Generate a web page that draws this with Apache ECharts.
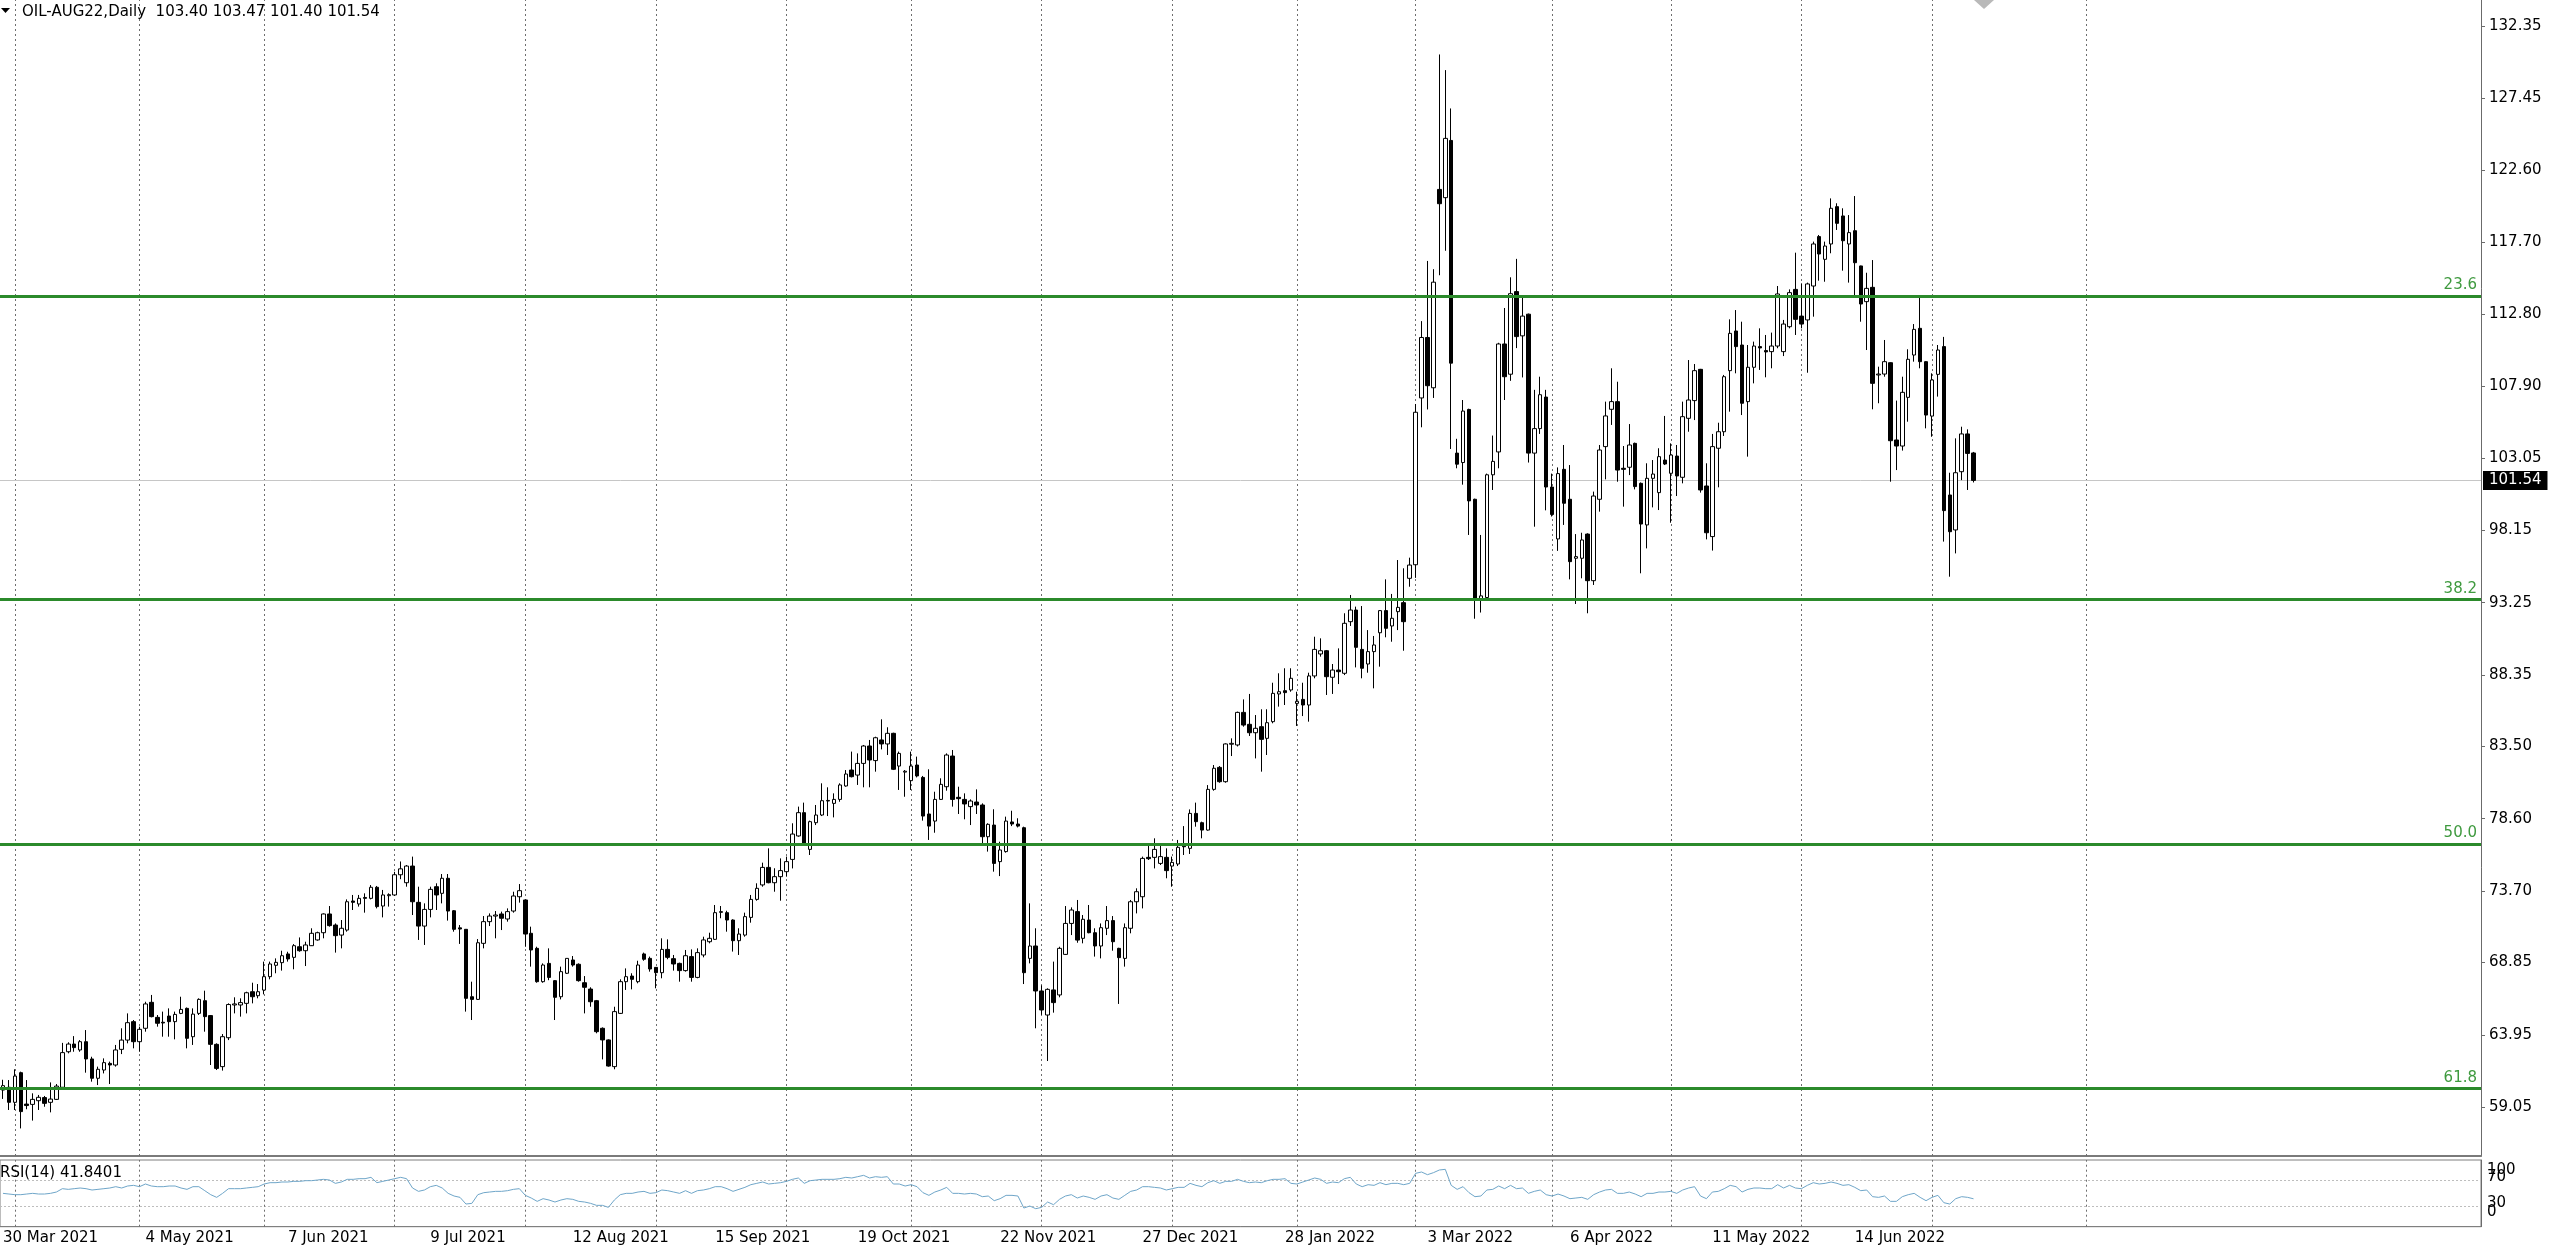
<!DOCTYPE html>
<html><head><meta charset="utf-8">
<script src="https://cdn.jsdelivr.net/npm/echarts@6/dist/echarts.min.js"></script>
<style>html,body{margin:0;padding:0;background:#fff}#c{width:2560px;height:1251px}</style>
</head><body><div id="c"></div>
<script>
// ---- data (slot 0 = 30 Mar 2021, one slot per daily bar) ----
// each row: [open, high, low, close]
const ohlc = [
[60.20,60.90,59.60,60.50],
[60.39,60.88,58.85,59.37],[59.37,61.61,58.85,61.15],[61.38,61.45,57.60,58.74],[59.25,60.88,58.90,59.15],[59.23,59.98,58.13,59.57],
[59.48,59.87,58.85,59.71],[59.69,59.80,59.07,59.30],[59.37,60.72,58.69,59.59],[59.57,60.61,59.53,60.47],[60.39,63.40,60.32,62.74],
[62.80,63.44,62.69,63.32],[63.32,63.86,62.80,63.08],[62.92,63.59,62.80,63.48],[63.48,64.27,61.38,62.31],[62.31,62.46,60.77,61.00],
[61.00,61.79,60.54,61.61],[61.56,62.35,61.33,62.06],[62.01,62.13,60.61,61.90],[61.90,63.26,61.79,62.92],[62.96,64.39,62.64,63.59],
[63.59,65.40,63.37,64.77],[64.84,64.95,63.03,63.48],[63.48,64.50,62.80,64.32],[64.39,66.19,64.16,66.04],[66.15,66.65,65.13,65.18],
[65.13,65.29,64.50,64.73],[64.80,65.52,63.82,64.75],[65.22,65.74,63.82,64.84],[64.84,65.52,63.64,65.33],[65.40,66.53,65.35,65.67],
[65.74,65.80,63.03,63.71],[63.82,65.74,63.26,65.35],[65.40,66.42,65.29,66.35],[66.26,66.94,64.16,65.18],[65.25,65.29,61.90,63.30],
[63.30,63.37,61.56,61.67],[61.79,64.00,61.52,63.82],[63.75,66.08,63.59,66.00],[65.97,66.49,65.40,66.04],[65.97,66.42,65.18,66.13],
[66.08,66.87,65.40,66.80],[66.87,67.48,66.08,66.53],[66.60,67.39,66.42,66.87],[66.98,68.91,66.69,67.89],[67.89,68.91,67.71,68.75],
[68.66,69.13,68.12,68.86],[68.84,69.65,68.30,69.31],[69.43,69.58,68.91,69.09],[69.20,70.10,68.39,69.99],[69.92,70.55,69.58,69.65],
[69.65,70.26,68.61,70.04],[69.99,71.17,69.97,70.83],[70.38,70.94,70.33,70.87],[70.87,72.18,70.49,72.14],[72.14,72.68,71.28,71.35],
[71.39,71.50,69.52,70.67],[70.71,71.73,69.81,71.17],[71.05,73.13,70.94,72.97],[73.02,73.43,72.41,72.93],[72.82,73.43,72.64,73.20],
[73.26,73.54,72.23,73.20],[73.20,74.10,73.13,73.95],[73.95,74.04,72.52,72.64],[72.68,73.77,71.91,73.43],[73.38,73.54,72.64,73.45],
[73.43,75.00,73.36,74.80],[74.80,75.70,74.50,75.20],[74.26,75.46,73.99,75.39],[75.39,76.03,72.07,72.97],[72.93,73.99,70.38,71.32],
[71.32,72.86,70.04,72.45],[72.45,73.99,71.91,73.81],[73.99,74.22,72.41,73.43],[73.54,74.85,72.86,74.56],[74.56,74.85,71.69,72.34],
[72.36,72.41,70.94,71.10],[71.20,71.39,70.11,71.12],[71.10,71.10,65.52,66.42],[66.53,67.55,64.95,66.35],[66.35,70.44,66.31,70.19],
[70.15,72.00,69.81,71.62],[71.62,72.18,71.32,72.00],[72.00,72.34,70.49,72.07],[72.14,72.30,71.05,71.85],[71.80,72.52,71.62,72.30],
[72.34,73.65,72.23,73.36],[73.31,74.17,72.91,73.72],[73.09,73.13,69.92,70.78],[70.83,71.28,68.57,69.70],[69.81,69.92,67.48,67.55],
[67.55,68.79,67.48,68.68],[68.79,69.81,67.65,67.84],[67.62,67.65,64.95,66.49],[66.53,68.57,66.35,68.23],[68.12,69.13,68.07,69.13],
[69.02,69.29,68.57,68.68],[68.73,68.79,67.55,67.62],[67.48,67.93,65.40,67.17],[67.05,67.17,65.85,66.19],[66.26,66.31,64.05,64.16],
[64.39,64.45,62.28,63.60],[63.60,63.64,61.79,61.83],[61.79,65.85,61.61,65.52],[65.40,67.71,65.36,67.55],[67.55,68.45,66.99,67.89],
[67.93,68.12,67.03,67.71],[67.55,68.97,67.44,68.68],[69.43,69.52,68.97,69.07],[69.13,69.25,68.23,68.41],[68.52,68.52,67.10,68.16],
[68.16,70.49,67.78,69.74],[69.74,70.42,69.07,69.20],[69.11,69.36,68.30,68.75],[68.79,68.84,67.55,68.30],[68.30,69.70,68.23,69.31],
[69.25,69.74,67.55,67.84],[67.84,69.81,67.78,69.52],[69.36,70.60,69.20,70.38],[70.26,70.87,70.15,70.49],[70.42,72.75,70.38,72.23],
[72.25,72.68,71.85,72.30],[72.23,72.36,70.94,71.73],[71.73,71.78,69.59,70.33],[70.33,71.17,69.36,70.78],[70.71,72.23,70.60,71.96],
[71.91,73.43,71.55,73.13],[73.13,74.22,73.04,73.88],[74.11,75.62,73.99,75.30],[75.30,76.59,74.22,74.26],[74.26,75.24,73.65,74.67],
[74.67,75.91,73.04,75.08],[75.01,76.03,74.67,75.69],[75.84,78.29,75.23,77.56],[77.43,79.42,77.38,79.01],[79.01,79.69,76.75,76.82],
[76.52,78.47,76.14,78.40],[78.33,79.53,78.17,78.85],[78.85,81.00,78.78,79.82],[79.80,80.73,78.78,79.84],[79.64,80.32,78.69,79.91],
[79.91,81.00,79.75,80.89],[80.82,81.90,80.77,81.63],[81.90,83.15,81.40,81.45],[81.56,83.03,80.89,82.35],[82.35,83.60,80.73,83.53],
[83.53,83.94,80.73,82.58],[82.54,84.16,81.79,84.09],[83.94,85.34,83.30,83.67],[83.67,84.80,82.92,84.39],[84.39,84.43,81.90,81.95],
[82.17,83.15,80.55,83.03],[81.76,81.90,80.09,81.82],[81.18,83.15,80.55,82.17],[82.24,82.81,81.40,81.50],[81.40,81.50,78.47,78.78],
[78.92,81.95,77.16,78.10],[78.44,80.43,77.65,79.91],[79.91,81.34,79.87,80.93],[80.77,83.03,80.50,82.92],[82.85,83.26,79.42,79.91],
[80.05,80.77,78.92,79.96],[79.91,80.32,78.56,79.60],[79.42,79.91,78.17,79.80],[79.73,80.59,78.92,79.53],[79.53,79.64,76.93,77.38],
[77.38,78.29,76.37,78.22],[78.17,79.24,75.01,75.57],[75.69,77.04,74.71,76.48],[76.37,78.74,76.30,78.44],[78.38,79.14,78.10,78.24],
[78.24,78.63,78.01,78.10],[77.99,78.06,67.39,68.16],[69.13,72.86,68.79,69.97],[69.97,71.17,64.39,66.92],[66.92,67.30,65.30,65.63],
[65.29,67.10,62.17,67.03],[66.99,68.91,65.45,66.13],[66.65,69.92,66.49,69.81],[69.40,72.68,69.36,71.50],[71.50,72.59,70.71,72.41],
[72.30,73.09,70.19,70.37],[70.49,72.07,70.15,71.78],[71.73,72.75,70.83,70.87],[70.87,71.17,69.25,69.97],[69.97,71.50,69.13,71.21],
[71.17,72.68,70.71,71.69],[71.69,72.00,69.65,70.26],[69.81,69.85,66.04,69.18],[69.13,71.50,68.57,71.21],[71.17,73.09,70.83,72.97],
[72.97,73.88,72.18,73.65],[73.31,76.03,72.52,75.91],[75.98,76.82,75.80,75.89],[75.98,77.27,75.23,76.52],[75.57,76.93,75.46,76.03],
[75.98,76.59,74.56,75.08],[75.39,76.03,73.99,75.64],[75.53,77.16,75.39,76.66],[76.86,78.10,76.14,76.70],[76.59,79.23,76.21,78.96],
[78.96,79.69,78.06,78.40],[78.33,78.40,77.27,77.83],[77.83,80.88,77.79,80.59],[80.59,82.24,80.50,82.02],[82.08,82.17,81.04,81.11],
[81.11,83.71,81.04,83.67],[83.65,84.05,82.85,83.71],[83.60,85.86,83.50,85.81],[85.81,86.69,84.84,84.95],[85.00,87.06,84.21,84.43],
[84.43,85.63,82.69,84.73],[84.84,86.02,81.79,83.98],[84.05,86.02,82.92,85.11],[85.18,87.82,85.07,87.10],[87.06,88.46,86.20,87.21],
[87.28,88.80,86.31,87.15],[87.33,88.80,87.21,88.12],[86.42,87.21,84.89,86.56],[86.69,87.82,85.56,86.31],[86.31,88.50,85.18,88.28],
[88.28,90.94,88.12,90.08],[89.77,90.83,89.59,89.99],[89.99,90.04,86.99,88.23],[88.19,89.09,87.06,88.68],[88.68,90.15,87.73,88.57],
[88.46,92.53,88.34,91.85],[91.96,93.77,91.67,92.75],[92.75,92.98,88.86,90.22],[90.08,93.02,88.12,88.80],[89.09,91.39,88.50,89.93],
[89.93,90.99,87.44,90.38],[91.21,92.75,88.91,92.71],[92.71,94.83,90.90,91.51],[91.67,93.84,90.60,92.19],[92.64,96.14,91.39,92.93],
[93.25,95.58,89.99,91.96],[94.90,96.30,94.33,95.80],[95.82,106.72,94.93,106.16],[107.13,112.34,105.14,111.23],[111.23,116.42,106.35,107.96],
[107.82,115.86,107.13,114.98],[121.27,130.42,115.45,120.30],[120.71,129.36,117.11,124.73],[124.59,126.76,103.67,109.49],[103.39,104.36,102.36,102.64],
[102.75,106.99,101.25,106.24],[106.35,106.40,97.84,100.15],[100.26,100.30,92.16,93.49],[93.49,97.84,92.58,93.71],[93.60,102.00,93.41,101.92],
[101.92,104.58,100.89,102.83],[103.47,110.87,102.36,110.79],[110.79,113.23,106.99,108.57],[108.74,115.31,108.29,114.20],[114.34,116.56,110.51,111.29],
[111.34,113.92,108.52,112.68],[112.81,112.85,102.75,103.39],[103.39,107.68,98.40,105.05],[105.05,108.57,104.69,107.35],[107.19,107.68,99.51,101.09],
[101.09,102.00,99.09,99.23],[97.57,102.42,96.76,102.00],[102.29,103.94,98.52,99.99],[100.26,102.58,94.83,96.03],[96.26,97.90,93.16,96.37],
[96.26,97.99,94.90,97.50],[97.90,97.95,92.53,94.74],[94.74,100.78,94.45,100.48],[100.26,103.94,99.42,103.60],[103.83,106.88,101.61,105.91],
[106.36,109.14,105.30,106.88],[106.88,108.23,101.45,102.24],[102.36,103.87,99.76,102.29],[102.43,105.36,101.90,103.94],[104.05,104.10,100.93,101.12],
[101.34,101.40,95.24,98.58],[98.52,102.70,96.93,101.68],[101.68,102.92,99.71,101.97],[100.71,103.72,99.53,103.15],[102.92,105.91,102.58,102.65],
[102.02,104.05,98.67,103.26],[103.19,103.94,100.48,101.84],[101.75,106.88,101.34,105.86],[105.75,109.70,104.84,106.99],[106.95,109.43,105.63,108.98],
[109.07,109.10,100.71,100.89],[101.16,102.70,97.54,97.99],[97.73,104.69,96.78,103.83],[103.72,105.45,101.07,104.84],[104.84,108.69,104.55,108.57],
[108.98,112.46,106.20,111.51],[111.67,113.09,108.80,110.61],[110.72,112.30,105.97,106.77],[106.88,110.72,103.15,109.21],[109.21,110.95,108.12,110.65],
[110.61,111.85,109.03,110.52],[110.34,111.40,108.53,110.25],[110.27,111.56,109.14,110.65],[110.65,114.72,110.50,114.18],[110.27,112.42,109.97,112.14],
[111.96,114.49,111.85,114.27],[114.49,116.98,111.40,112.46],[112.68,114.90,111.85,112.14],[112.42,114.95,108.84,114.86],[114.72,117.73,112.64,117.57],
[118.07,118.18,115.08,116.89],[116.53,117.73,115.01,117.43],[117.57,120.66,116.94,119.99],[120.10,120.33,118.52,118.97],[119.47,119.99,115.76,117.79],
[117.57,119.53,114.95,118.34],[118.47,120.82,114.11,116.30],[116.08,116.10,112.30,113.50],[113.66,115.62,110.38,114.56],[114.63,116.48,106.36,108.12],
[108.69,109.25,106.77,108.75],[108.75,111.06,108.57,109.59],[109.52,109.55,101.45,104.23],[104.28,106.95,102.24,103.87],[103.87,108.57,103.56,107.51],
[107.17,110.43,105.52,109.75],[110.04,112.14,109.59,111.78],[111.85,114.04,109.14,109.59],[109.59,109.62,105.07,105.97],[105.90,108.80,104.50,108.35],
[108.73,110.72,107.22,110.38],[110.61,111.27,97.39,99.49],[100.55,102.06,95.01,98.06],[98.18,104.39,96.59,102.06],[102.13,105.18,101.56,104.69],
[104.69,105.00,100.89,103.37],[103.40,103.47,101.40,101.54]
];
const rsiValues = [
50,
49,48,48,49,50,49,49,50,52,57, 56,57,58,57,55,56,57,58,60,58, 61,62,60,64,61,60,60,61,61,58,
56,60,60,54,48,44,50,57,57,57, 58,59,60,64,66,66,67,67,68,68, 69,69,70,71,70,65,67,71,71,72,
72,74,66,68,70,72,74,72,58,53, 55,60,62,58,50,46,44,34,35,48, 51,52,53,53,54,56,57,47,43,38,
42,40,37,40,42,41,38,37,35,32, 32,29,40,48,50,50,52,53,50,51, 55,54,52,50,54,50,54,55,57,60,
60,57,53,56,59,63,65,67,64,65, 66,68,71,73,65,69,70,71,71,71, 72,74,73,75,77,73,75,74,75,64,
64,61,63,60,51,47,52,55,59,50, 50,49,50,49,45,46,39,42,47,47, 46,28,31,27,29,37,33,41,46,48,
43,46,44,41,46,48,43,41,47,53, 55,60,60,59,58,55,57,59,59,65, 62,60,66,69,65,68,68,71,68,66,
67,66,69,71,71,72,65,64,67,70, 73,71,65,67,66,72,74,64,60,63, 62,66,63,65,65,63,65,80,82,78,
81,85,86,62,56,60,51,45,46,55, 56,61,57,62,57,58,50,53,55,48, 46,49,46,42,43,44,41,48,52,55,
56,50,50,52,49,45,50,50,52,52, 53,50,55,58,60,46,42,52,53,57, 62,60,52,56,58,58,57,57,63,58,
62,58,57,62,66,64,65,67,65,62, 63,59,54,55,45,44,46,38,38,45, 48,50,44,39,44,47,36,34,42,45,
44,41.84
];
const priceTicks = [59.05,63.95,68.85,73.70,78.60,83.50,88.35,93.25,98.15,103.05,107.90,112.80,117.70,122.60,127.45,132.35];
const rsiEdgeTicks = [0,100];
const rsiLevelTicks = [30,70];
const dateLabels = ['30 Mar 2021','4 May 2021','7 Jun 2021','9 Jul 2021','12 Aug 2021','15 Sep 2021','19 Oct 2021','22 Nov 2021','27 Dec 2021','28 Jan 2022','3 Mar 2022','6 Apr 2022','11 May 2022','14 Jun 2022'];
const dateLabelSlots = [0,24,48,72,96,120,144,168,192,216,240,264,288,312];
const monthLineSlots = [2,23,44,66,88,110,132,153,175,197,218,238,261,281,303,325,351];
const fiboNames = ['23.6','38.2','50.0','61.8'];
const fiboLevels = [114.04,93.49,76.89,60.30];
const symbolName = 'OIL-AUG22,Daily';
const lastBar = [103.40,103.47,101.40,101.54];
const rsiLast = '41.8401';

// ---- chart ----
const FONT = 'DejaVu Sans';
const SLOT_COUNT = 418;
const slots = Array.from({length: SLOT_COUNT}, (_, i) => 's' + i);
const labelBySlot = {};
dateLabelSlots.forEach((s, i) => { labelBySlot[s] = dateLabels[i]; });
const candleData = ohlc.map(d => [d[0], d[3], d[2], d[1]]);
const vLineStyle = {color: '#6e6e6e', type: [2, 3], width: 1};
const rsiRich = {
  l100: {fontFamily: FONT, fontSize: 15, color: '#000', padding: [21, 0, 0, 0]},
  l70: {fontFamily: FONT, fontSize: 15, color: '#000', padding: [0, 0, 5, 0]},
  l30: {fontFamily: FONT, fontSize: 15, color: '#000', padding: [0, 0, 8, 0]},
  l0: {fontFamily: FONT, fontSize: 15, color: '#000', padding: [0, 0, 30, 0]}
};
function rsiAxis(ticks, showLine) {
  return {type: 'value', gridIndex: 1, position: 'right', min: 0, max: 100,
    axisLine: {show: showLine, lineStyle: {color: '#6b6b6b', width: 1}},
    axisTick: {show: false},
    axisLabel: {customValues: ticks, margin: 6, showMinLabel: true, showMaxLabel: true,
      formatter: v => '{l' + v + '|' + v + '}',
      fontFamily: FONT, fontSize: 15, color: '#000', rich: rsiRich},
    splitLine: {show: false}};
}

const chart = echarts.init(document.getElementById('c'), null, {renderer: 'canvas', width: 2560, height: 1251});
chart.setOption({
  animation: false,
  backgroundColor: '#ffffff',
  title: [
    {text: symbolName + '  ' + lastBar.map(v => v.toFixed(2)).join(' '), left: 22, top: 3, padding: 0,
     textStyle: {fontFamily: FONT, fontSize: 15, fontWeight: 'normal', color: '#000', lineHeight: 18}},
    {text: 'RSI(14) ' + rsiLast, left: 0, top: 1164, padding: 0,
     textStyle: {fontFamily: FONT, fontSize: 15, fontWeight: 'normal', color: '#000', lineHeight: 18}}
  ],
  graphic: [
    {type: 'polygon', shape: {points: [[1, 8], [10, 8], [5.5, 13]]}, style: {fill: '#000'}},
    {type: 'polygon', shape: {points: [[1974, 0], [1994, 0], [1984, 9]]}, style: {fill: '#b9b9b9'}}
  ],
  grid: [
    {left: -6, right: 79, top: 0, height: 1156},
    {left: -6, right: 79, top: 1160, height: 66.7, show: true, borderColor: '#7f7f7f', borderWidth: 1}
  ],
  xAxis: [
    {type: 'category', gridIndex: 0, data: slots, boundaryGap: true,
     axisLine: {show: true, lineStyle: {color: '#7a7a7a', width: 2}}, axisTick: {show: false},
     axisLabel: {show: false}, splitLine: {show: false}},
    {type: 'category', gridIndex: 1, data: slots, boundaryGap: true,
     axisLine: {show: true, lineStyle: {color: '#7f7f7f', width: 1}}, axisTick: {show: false},
     axisLabel: {show: true, interval: (i) => labelBySlot[i] !== undefined,
       formatter: (v, i) => labelBySlot[i] || '', align: 'left', margin: 4,
       fontFamily: FONT, fontSize: 15, color: '#000'},
     splitLine: {show: false}}
  ],
  yAxis: [
    {type: 'value', gridIndex: 0, position: 'right', min: 55.73, max: 134.113,
     axisLine: {show: true, lineStyle: {color: '#6b6b6b', width: 1}},
     axisTick: {show: true, length: 4, customValues: priceTicks, lineStyle: {color: '#6b6b6b'}},
     axisLabel: {customValues: priceTicks, formatter: v => Number(v).toFixed(2), margin: 8,
       fontFamily: FONT, fontSize: 15, color: '#000'},
     splitLine: {show: false}},
    rsiAxis(rsiEdgeTicks, true),
    rsiAxis(rsiLevelTicks, false)
  ],
  series: [
    {name: 'grid', type: 'line', xAxisIndex: 0, yAxisIndex: 0, data: [], z: 1, silent: true,
     markLine: {silent: true, symbol: 'none', z: 1, animation: false, label: {show: false},
       data: [
         ...monthLineSlots.map(s => ({xAxis: s, lineStyle: vLineStyle})),
         {yAxis: lastBar[3], lineStyle: {color: '#c6c6c6', type: 'solid', width: 1},
          label: {show: true, position: 'end', formatter: lastBar[3].toFixed(2), distance: 2,
            backgroundColor: '#000', color: '#fff', fontFamily: FONT, fontSize: 15,
            lineHeight: 16, padding: [2, 6, 1, 6]}}
       ]}},
    {name: 'OIL', type: 'candlestick', xAxisIndex: 0, yAxisIndex: 0, data: candleData, z: 3,
     barWidth: 4, silent: true,
     itemStyle: {color: '#ffffff', color0: '#000000', borderColor: '#000000', borderColor0: '#000000', borderWidth: 1},
     markLine: {silent: true, symbol: 'none', z: 6, animation: false,
       lineStyle: {color: '#2b8a2b', width: 3, type: 'solid'},
       label: {show: true, position: 'insideEndTop', distance: [4, 3], color: '#3f9a3f',
         fontFamily: FONT, fontSize: 15},
       data: fiboLevels.map((v, i) => ({yAxis: v, label: {formatter: fiboNames[i]}}))}},
    {name: 'RSI', type: 'line', xAxisIndex: 1, yAxisIndex: 1, data: rsiValues, z: 3,
     symbol: 'none', silent: true, lineStyle: {color: '#6fa6c9', width: 1},
     markLine: {silent: true, symbol: 'none', z: 1, animation: false, label: {show: false},
       data: [
         ...rsiLevelTicks.map(v => ({yAxis: v, lineStyle: {color: '#bdbdbd', type: [2, 2], width: 1}})),
         ...monthLineSlots.map(s => ({xAxis: s, lineStyle: vLineStyle}))
       ]}}
  ]
});
</script>
</body></html>
